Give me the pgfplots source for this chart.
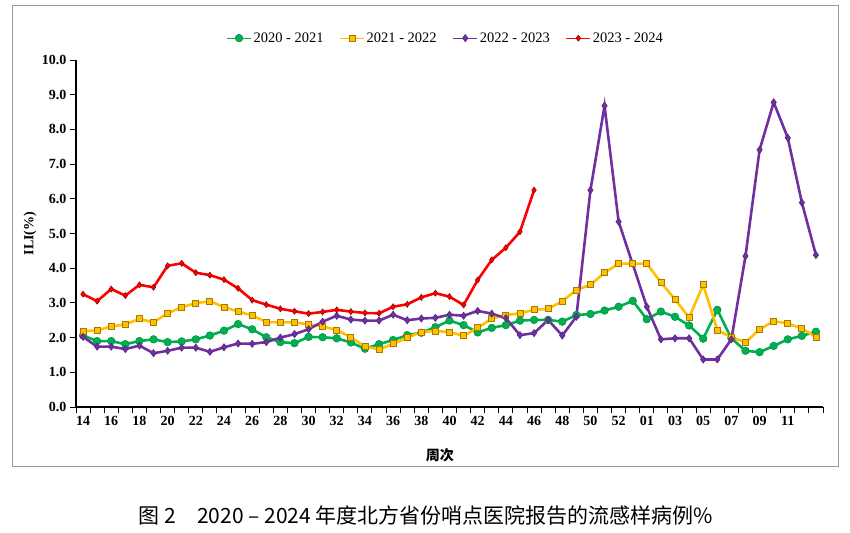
\documentclass[border=0pt]{standalone}
\usepackage{pgfplots}
\pgfplotsset{compat=1.18}
\usepackage{fontspec}
\setmainfont{Liberation Serif}
\newfontfamily\cjk{Noto Sans CJK SC}
\definecolor{cgreen}{RGB}{0,176,80}
\definecolor{cyellow}{RGB}{255,192,0}
\definecolor{cyedge}{RGB}{170,120,0}
\definecolor{cpurple}{RGB}{112,48,160}
\definecolor{cred}{RGB}{255,0,0}
\begin{document}
\begin{tikzpicture}[x=1pt,y=1pt]
\useasboundingbox (0,0) rectangle (850,-532);
\draw[black!40, line width=1pt] (12,-6) rectangle (838,-466);
\begin{axis}[
  at={(76pt,-407pt)}, anchor=south west, scale only axis,
  width=747pt, height=347pt,
  xmin=-0.5, xmax=52.5, ymin=0, ymax=10,
  axis x line*=bottom, axis y line*=left,
  axis line style={line width=1.2pt, black},
  tick align=outside,
  major tick length=6pt, minor tick length=6pt,
  ytick={0,1,...,10},
  xtick={0,2,...,50},
  xticklabels={14,16,18,20,22,24,26,28,30,32,34,36,38,40,42,44,46,48,50,52,01,03,05,07,09,11},
  minor xtick={-0.5,0.5,...,52.5},
  major x tick style={draw=none},
  minor x tick style={line width=1pt, black},
  major y tick style={line width=1pt, black},
  /pgf/number format/assume math mode=true,
  ticklabel style={font=\bfseries\fontsize{14}{14}\selectfont},
  y tick label style={/pgf/number format/fixed, /pgf/number format/fixed zerofill, /pgf/number format/precision=1},
  ylabel={ILI(\%)},
  every axis y label/.style={at={(rel axis cs:0,0.5)}, xshift=-46pt, rotate=90, anchor=center, font=\bfseries\fontsize{14}{14}\selectfont},
  xlabel={\cjk\bfseries 周次},
  every axis x label/.style={at={(rel axis cs:0.487,0)}, anchor=center, yshift=-48pt, font=\fontsize{14}{14}\selectfont},
  legend style={at={(0.495,1.063)}, anchor=center, draw=none, fill=none, legend columns=4,
    font=\fontsize{14.5}{15}\selectfont,
    /tikz/every even column/.append style={column sep=14pt}},
  legend image code/.code={\draw[line width=1pt, mark repeat=2, mark phase=2] plot coordinates {(0pt,0pt) (12pt,0pt) (24pt,0pt)};},
  clip=false,
]
\addplot[cgreen, line width=2.6pt, mark=*, mark size=3.8pt, mark options={fill=cgreen, draw=cgreen!85!black, line width=0.6pt}] coordinates {
(0,2.06)(1,1.90)(2,1.90)(3,1.81)(4,1.90)(5,1.95)(6,1.87)(7,1.89)(8,1.95)(9,2.06)
(10,2.20)(11,2.39)(12,2.24)(13,2.01)(14,1.87)(15,1.84)(16,2.02)(17,2.01)(18,1.98)(19,1.86)
(20,1.68)(21,1.81)(22,1.93)(23,2.07)(24,2.14)(25,2.30)(26,2.49)(27,2.36)(28,2.15)(29,2.28)
(30,2.36)(31,2.49)(32,2.51)(33,2.51)(34,2.46)(35,2.65)(36,2.68)(37,2.78)(38,2.89)(39,3.06)
(40,2.53)(41,2.75)(42,2.60)(43,2.35)(44,1.97)(45,2.80)(46,1.98)(47,1.62)(48,1.58)(49,1.76)
(50,1.95)(51,2.05)(52,2.17)};
\addlegendentry{2020 - 2021}
\addplot[cyellow, line width=2.6pt, mark=square*, mark size=3pt, mark options={fill=cyellow, draw=cyedge, line width=0.8pt}] coordinates {
(0,2.18)(1,2.21)(2,2.32)(3,2.38)(4,2.54)(5,2.44)(6,2.70)(7,2.88)(8,2.99)(9,3.05)
(10,2.88)(11,2.75)(12,2.64)(13,2.45)(14,2.44)(15,2.44)(16,2.38)(17,2.32)(18,2.22)(19,2.01)
(20,1.74)(21,1.66)(22,1.82)(23,2.00)(24,2.16)(25,2.19)(26,2.16)(27,2.05)(28,2.28)(29,2.55)
(30,2.65)(31,2.70)(32,2.80)(33,2.83)(34,3.05)(35,3.37)(36,3.52)(37,3.87)(38,4.13)(39,4.13)
(40,4.13)(41,3.59)(42,3.10)(43,2.58)(44,3.52)(45,2.22)(46,2.01)(47,1.86)(48,2.24)(49,2.47)
(50,2.41)(51,2.26)(52,2.02)};
\addlegendentry{2021 - 2022}
\addplot[cpurple, line width=2.6pt, mark=diamond*, mark size=3.6pt, mark options={fill=cpurple, draw=cpurple!80!black, line width=0.6pt}] coordinates {
(0,2.02)(1,1.74)(2,1.74)(3,1.67)(4,1.77)(5,1.55)(6,1.62)(7,1.71)(8,1.71)(9,1.59)
(10,1.72)(11,1.83)(12,1.82)(13,1.87)(14,2.00)(15,2.10)(16,2.24)(17,2.46)(18,2.63)(19,2.52)
(20,2.49)(21,2.49)(22,2.66)(23,2.50)(24,2.55)(25,2.57)(26,2.66)(27,2.63)(28,2.77)(29,2.69)
(30,2.56)(31,2.07)(32,2.13)(33,2.51)(34,2.06)(35,2.60)(36,6.25)(37,8.68)(38,5.34)
(40,2.89)(41,1.95)(42,1.98)(43,1.98)(44,1.37)(45,1.37)(46,1.95)(47,4.35)(48,7.41)(49,8.78)
(50,7.76)(51,5.89)(52,4.38)};
\addlegendentry{2022 - 2023}
\addplot[cred, line width=2.6pt, mark=diamond*, mark size=3pt, mark options={fill=cred, draw=cred!60!black, line width=0.6pt}] coordinates {
(0,3.25)(1,3.05)(2,3.40)(3,3.21)(4,3.52)(5,3.45)(6,4.07)(7,4.14)(8,3.87)(9,3.80)
(10,3.67)(11,3.42)(12,3.08)(13,2.95)(14,2.83)(15,2.76)(16,2.69)(17,2.74)(18,2.80)(19,2.75)
(20,2.71)(21,2.70)(22,2.89)(23,2.96)(24,3.16)(25,3.28)(26,3.18)(27,2.94)(28,3.66)(29,4.24)
(30,4.59)(31,5.05)(32,6.25)};
\addlegendentry{2023 - 2024}
\end{axis}
\node[font=\cjk\fontsize{21}{21}\selectfont] at (426,-516) {图 2\quad 2020 – 2024 年度北方省份哨点医院报告的流感样病例\%};
\end{tikzpicture}
\end{document}
